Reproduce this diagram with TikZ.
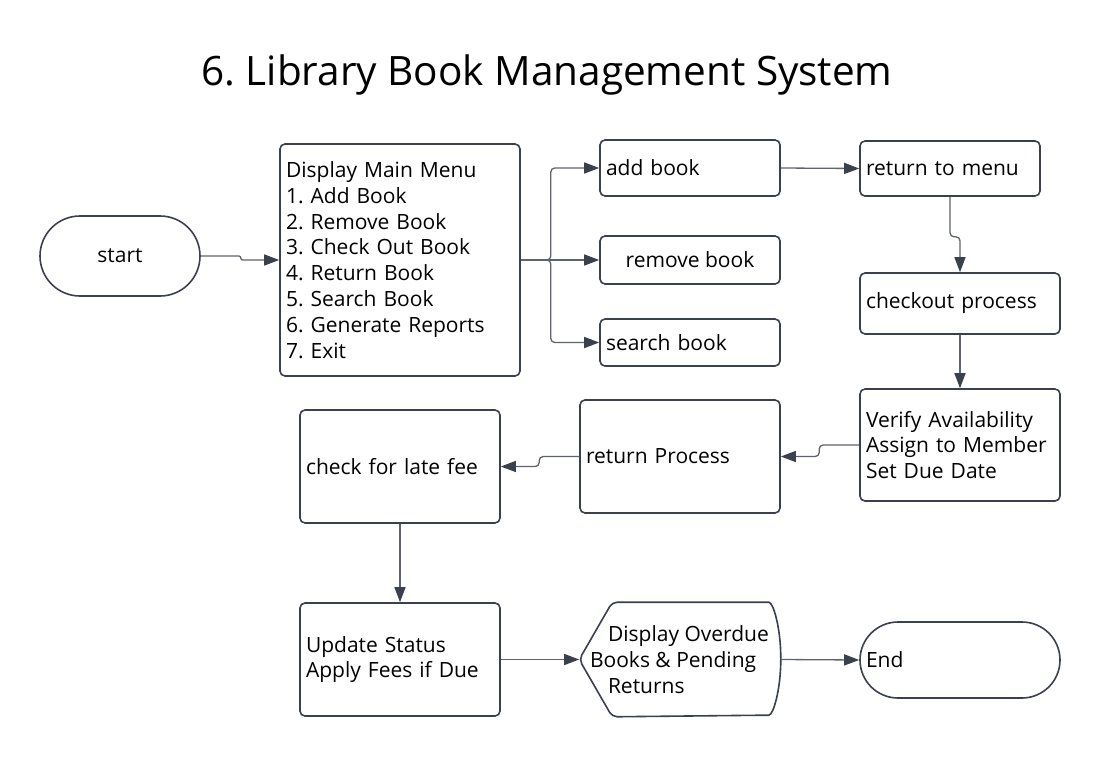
\documentclass[tikz,border=0pt]{standalone}
\usepackage{fontspec}
\setmainfont{Open Sans}
\frenchspacing
\usetikzlibrary{arrows.meta}
\definecolor{edgecol}{HTML}{3B404D}
\definecolor{wirecol}{HTML}{5E636D}

\tikzset{
  box/.style={draw=edgecol,line width=1.6pt,rounded corners=5pt,fill=white,
    inner xsep=6pt,inner ysep=0pt,align=left,font=\fontsize{21}{25.8}\selectfont},
  term/.style={box,minimum width=200pt,minimum height=76pt,rounded corners=38pt},
  conn/.style={draw=wirecol,line width=1.3pt,rounded corners=4pt,
    -{Triangle[length=15pt,width=11pt,color=edgecol]}}
}

\begin{document}
\begin{tikzpicture}[x=1pt,y=-1pt]
\useasboundingbox[fill=white] (0,0) rectangle (1100,757);
\node (title) at (547,75) {\fontsize{40.5}{44}\selectfont 6. Library Book Management System};

  \node[term,minimum width=160pt,minimum height=80pt,rounded corners=40pt,align=center] at (120,256) (start) {start};
  \node[box,text width=228pt,minimum height=232pt] at (400,260) (menu) {Display Main Menu\\1. Add Book\\2. Remove Book\\3. Check Out Book\\4. Return Book\\5. Search Book\\6. Generate Reports\\7. Exit};
  \node[box,text width=168pt,minimum height=56pt] at (690,168) (addb) {add book};
  \node[box,minimum width=180pt,minimum height=48pt,align=center] at (690,260) (remb) {remove book};
  \node[box,text width=168pt,minimum height=47pt] at (690,342.5) (srch) {search book};
  \node[box,text width=168pt,minimum height=55pt] at (950,168.5) (rmenu) {return to menu};
  \node[box,text width=188pt,minimum height=61pt] at (960,303.5) (chkp) {checkout process};
  \node[box,text width=188pt,minimum height=112pt] at (960,445) (verf) {Verify Availability\\Assign to Member\\Set Due Date};
  \node[box,text width=188pt,minimum height=113pt] at (680,456.5) (retp) {return Process};
  \node[box,text width=188pt,minimum height=113pt] at (400,466.5) (late) {check for late fee};
  \node[box,text width=188pt,minimum height=113pt] at (400,659.5) (upd) {Update Status\\Apply Fees if Due};
  \node[box,draw=none,fill=none,minimum width=200pt,minimum height=113pt] at (680,659.5) (disp) {};
  \draw[draw=edgecol,line width=1.6pt,rounded corners=5pt,fill=white]
    (disp.west) -- ([xshift=33pt]disp.north west) -- ([xshift=-17pt]disp.north east)
    arc[start angle=90,end angle=-90,x radius=17pt,y radius=56.5pt]
    -- ([xshift=33pt]disp.south west) -- cycle;
  \node[box,draw=none,fill=none,inner xsep=0pt,anchor=west] at ([xshift=10pt]disp.west) {\hspace*{18pt}Display Overdue\\Books \& Pending\\\hspace*{18pt}Returns};
  \node[term,text width=188pt] at (960,660) (endn) {End};

  \draw[conn,rounded corners=2pt] (start.east) -- ++(40,0) |- (menu.west);
  \draw[conn] (menu.east) -- ++(30,0) |- (addb.west);
  \draw[conn] (menu.east) -- (remb.west);
  \draw[conn] (menu.east) -- ++(30,0) |- (srch.west);
  \draw[conn] (addb.east) -- (rmenu.west);
  \draw[conn] (rmenu.south) -- ++(0,40) -| (chkp.north);
  \draw[conn] (chkp.south) -- (verf.north);
  \draw[conn] (verf.west) -- ++(-40,0) |- (retp.east);
  \draw[conn] (retp.west) -- ++(-40,0) |- (late.east);
  \draw[conn] (late.south) -- (upd.north);
  \draw[conn] (upd.east) -- (disp.west);
  \draw[conn] (disp.east) -- (endn.west);
\end{tikzpicture}
\end{document}
